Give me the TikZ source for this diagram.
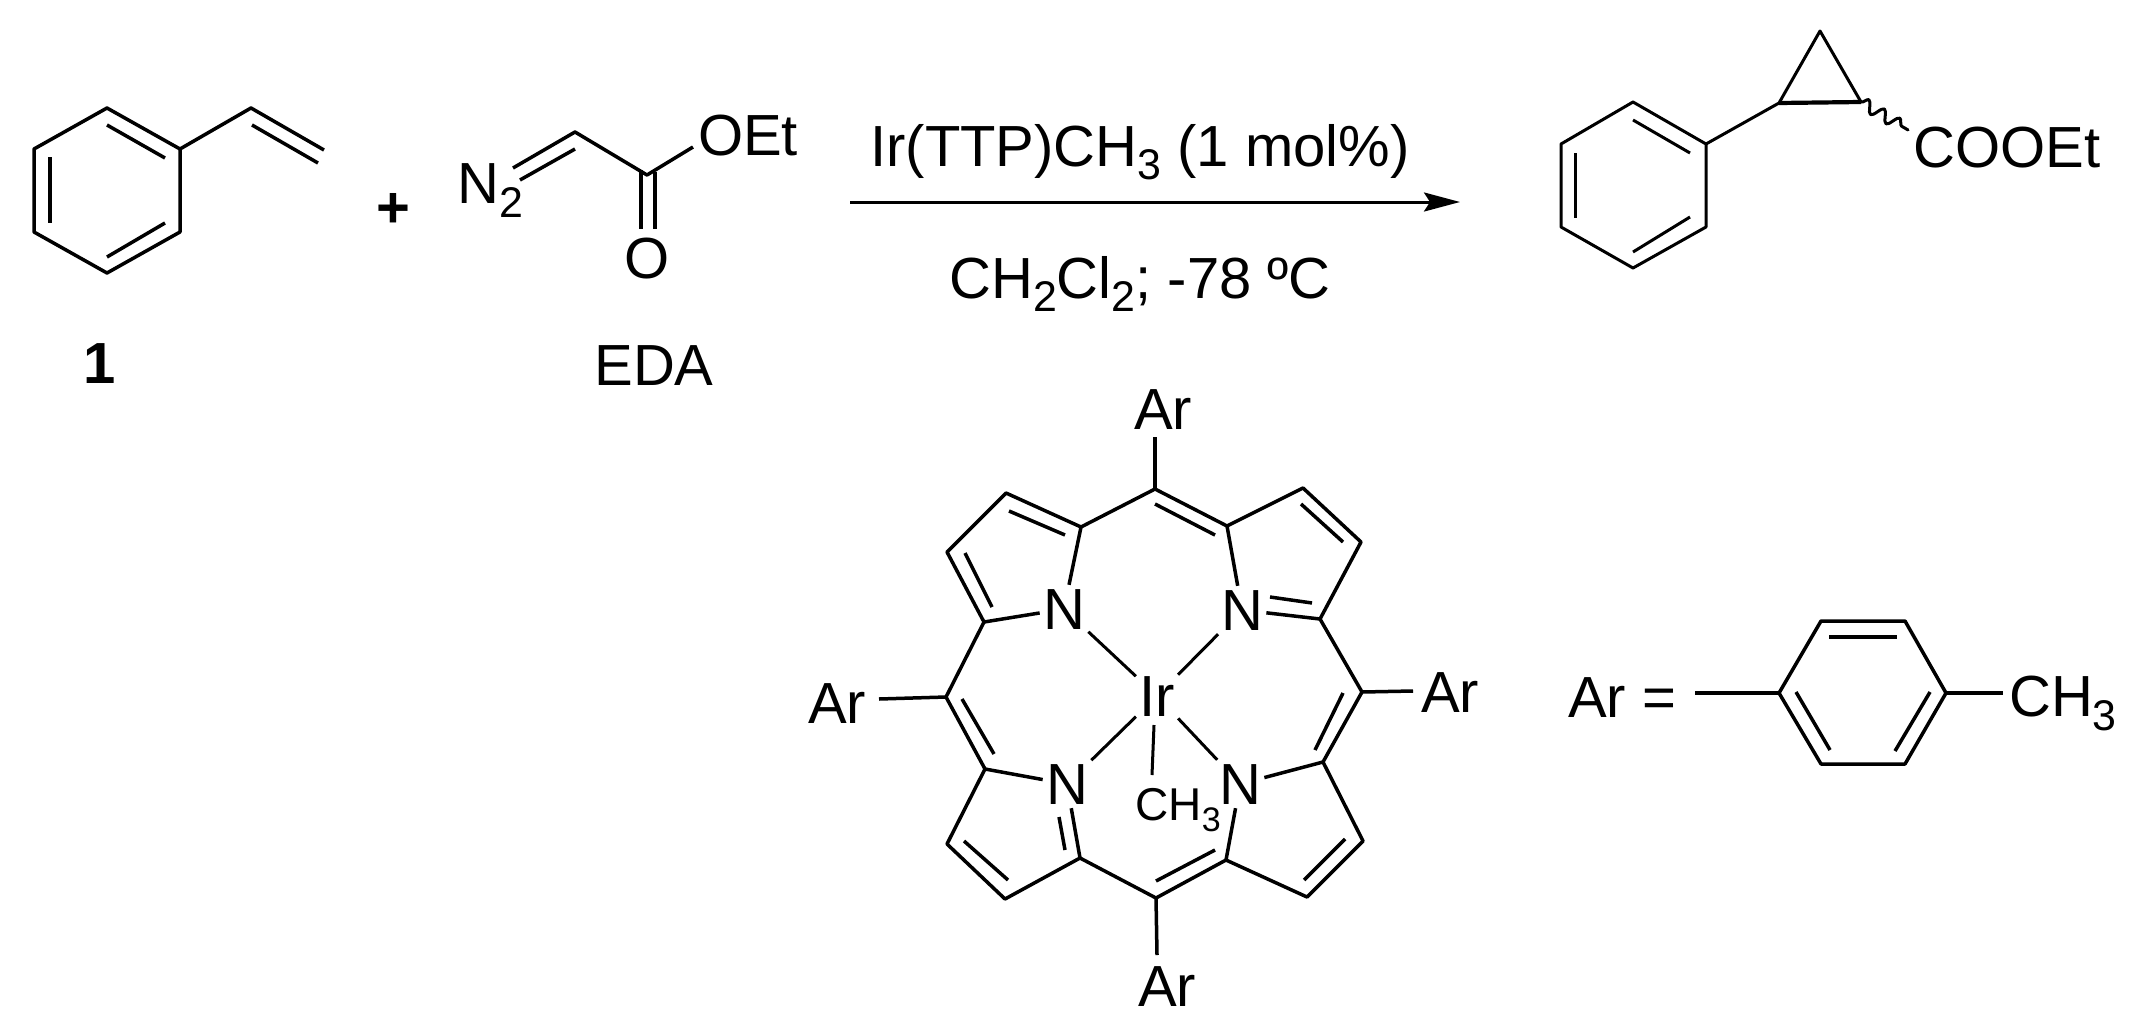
\documentclass[tikz,border=0pt]{standalone}
\usepackage{fontspec}
\setmainfont{Liberation Sans}
\usetikzlibrary{arrows.meta}
\usetikzlibrary{decorations.pathmorphing}
\newcommand{\chemsub}[1]{\raisebox{-.24em}{\scalebox{.74}{#1}}}

\begin{document}
\begin{tikzpicture}[x=0.5pt, y=-0.5pt, line join=round,
    bond/.style={line width=1.75pt},
    thinbond/.style={line width=1.5pt},
    label/.style={inner sep=1.5pt, text height=20.8pt, text depth=0pt, font=\fontsize{29}{30}\selectfont},
    smalllabel/.style={inner sep=1.5pt, text height=16.5pt, text depth=0pt, font=\fontsize{23}{24}\selectfont}]
    \useasboundingbox (0, 0) rectangle (2139, 1028);

    % styrene
    \foreach \n/\px/\py in {sa/107/108, sb/180/149, sc/180/232, sd/107/273, se/34/232, sf/34/149, sg/251/108, sh/324/150}
        \coordinate (\n) at (\px, \py);
    \draw[bond] (sa) -- (sb) -- (sc) -- (sd) -- (se) -- (sf) -- cycle;
    \draw[bond] (sb) -- (sg) -- (sh);
    \foreach \ax/\ay/\bx/\by in {107/125/165/158, 50/157/50/223, 107/257/165/223, 252/125/318/163}
        \draw[bond] (\ax, \ay) -- (\bx, \by);
    \node[label] (one) at (100, 363) {\textbf{1}};
    \node[label] (plus) at (393, 207) {\textbf{+}};

    % EDA
    \node[label] (dz) at (490, 183) {N\chemsub{2}};
    \node[label] (oet) at (748, 135) {OEt};
    \node[label] (oxo) at (647, 258) {O};
    \node[label] (eda) at (654, 365) {EDA};
    \coordinate (ea) at (575, 132);
    \coordinate (eb) at (647, 175);
    \coordinate (ec) at (513, 168);
    \coordinate (ed) at (693, 147);
    \draw[bond] (ec) -- (ea) -- (eb) -- (ed);
    \foreach \ax/\ay/\bx/\by in {575/149/520/180, 641/170/641/229, 655/172/655/229}
        \draw[bond] (\ax, \ay) -- (\bx, \by);

    % reaction arrow
    \coordinate (ra) at (850, 202);
    \coordinate (rb) at (1460, 202);
    \draw[line width=1.5pt, -{Stealth[length=18pt, width=9.5pt, inset=3pt]}] (ra) -- (rb);
    \node[label, anchor=base] (cat) at (1140, 166) {Ir(TTP)CH\chemsub{3} (1 mol\%)};
    \node[label, anchor=base] (solv) at (1140, 298) {CH\chemsub{2}Cl\chemsub{2}; -78 ºC};

    % cyclopropane product
    \foreach \n/\px/\py in {pa/1633/102, pb/1706/144, pc/1706/227, pd/1633/268, pe/1561/227, pf/1561/144, pg/1779/103, ph/1861/102, pi/1820/31, pj/1908/130}
        \coordinate (\n) at (\px, \py);
    \draw[thinbond] (pa) -- (pb) -- (pc) -- (pd) -- (pe) -- (pf) -- cycle;
    \draw[thinbond] (pb) -- (pg) -- (pi) -- (ph);
    \draw[line width=2.1pt] (pg) -- (ph);
    \draw[line width=1.5pt, line cap=round, decorate, decoration={snake, segment length=9pt, amplitude=3pt}] (ph) -- (pj);
    \foreach \ax/\ay/\bx/\by in {1633/120/1690/153, 1575/153/1575/218, 1633/252/1690/217}
        \draw[thinbond] (\ax, \ay) -- (\bx, \by);
    \node[label] (ester) at (2007, 147) {COOEt};

    % porphyrin
    \node[label] (ntl) at (1064, 609) {N};
    \node[label] (ntr) at (1242, 610) {N};
    \node[label] (nbl) at (1067, 784) {N};
    \node[label] (nbr) at (1240, 784) {N};
    \node[label] (ir) at (1157, 696) {Ir};
    \node[smalllabel] (me) at (1178, 804) {CH\chemsub{3}};
    \node[label] (art) at (1163, 409) {Ar};
    \node[label] (arr) at (1450, 692) {Ar};
    \node[label] (arb) at (1167, 986) {Ar};
    \node[label] (arl) at (837, 703) {Ar};
    \foreach \n/\px/\py in {ma/1155/489, mb/1362/692, mc/1156/898, md/946/697,
        ta/1081/527, tb/1006/493, tc/947/552, td/984/622,
        ua/1227/526, ub/1303/488, uc/1361/542, ud/1320/619,
        va/1323/762, vb/1363/841, vc/1307/897, vd/1226/860,
        wa/1080/858, wb/1005/899, wc/947/844, wd/985/769,
        xa/1155/437, xb/1413/691, xc/1157/955, xd/879/699, xe/1154/725, xf/1152/775}
        \coordinate (\n) at (\px, \py);
    \draw[bond] (ntl) -- (td) -- (tc) -- (tb) -- (ta) -- (ntl);
    \draw[bond] (ntr) -- (ud) -- (uc) -- (ub) -- (ua) -- (ntr);
    \draw[bond] (nbr) -- (va) -- (vb) -- (vc) -- (vd) -- (nbr);
    \draw[bond] (nbl) -- (wd) -- (wc) -- (wb) -- (wa) -- (nbl);
    \draw[bond] (ta) -- (ma) -- (ua);
    \draw[bond] (ud) -- (mb) -- (va);
    \draw[bond] (vd) -- (mc) -- (wa);
    \draw[bond] (wd) -- (md) -- (td);
    \draw[bond] (ma) -- (xa);
    \draw[bond] (mb) -- (xb);
    \draw[bond] (mc) -- (xc);
    \draw[bond] (md) -- (xd);
    \foreach \n in {ntl, ntr, nbl, nbr}
        \draw[thinbond] (ir) -- (\n);
    \draw[thinbond] (xe) -- (xf);
    \foreach \ax/\ay/\bx/\by in {1009/511/1065/535, 965/553/992/607, 1155/504/1215/535, 1301/504/1343/542,
        1312/603/1270/597, 1343/693/1315/750, 1345/839/1304/880, 1215/850/1156/881,
        1008/880/964/841, 1065/850/1059/817, 962/699/994/754}
        \draw[bond] (\ax, \ay) -- (\bx, \by);

    % aryl group
    \node[label] (areq) at (1622, 697) {Ar =};
    \node[label] (tolme) at (2063, 696) {CH\chemsub{3}};
    \foreach \n/\px/\py in {ca/1695/693, cb/1779/693, cc/1821/621, cd/1905/621, ce/1946/693, cf/1905/764, cg/1821/764, ch/2003/693}
        \coordinate (\n) at (\px, \py);
    \draw[bond] (cb) -- (cc) -- (cd) -- (ce) -- (cf) -- (cg) -- cycle;
    \draw[bond] (ca) -- (cb);
    \draw[bond] (ce) -- (ch);
    \foreach \ax/\ay/\bx/\by in {1829/637/1897/637, 1796/692/1830/750, 1930/692/1895/751}
        \draw[bond] (\ax, \ay) -- (\bx, \by);
\end{tikzpicture}
\end{document}
